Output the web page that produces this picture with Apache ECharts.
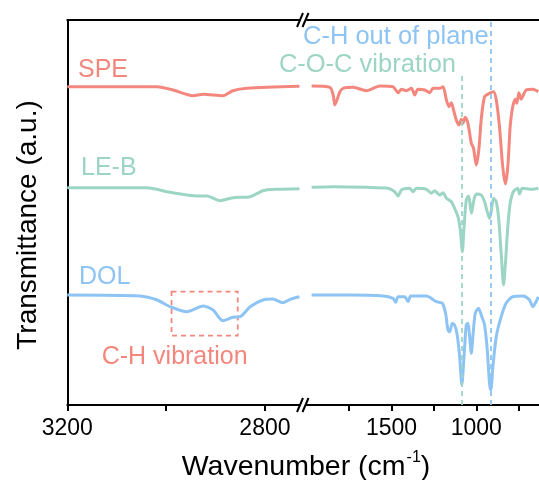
<!DOCTYPE html>
<html>
<head>
<meta charset="utf-8">
<script src="https://cdn.jsdelivr.net/npm/echarts@6/dist/echarts.min.js"></script>
<style>html,body{margin:0;padding:0;background:#fff;}#c{width:539px;height:480px;}</style>
</head>
<body>
<div id="c"></div>
<script>
// Wavenumber (cm-1) vs. transmittance (a.u., offset traces)
const speLeft = [[3200,318.3],[3018,318.3],[2986,315],[2946,309.3],[2925,310.7],[2885,309.3],[2865,314.3],[2836,316.7],[2730,318.7]];
const speRight = [[1971,319],[1863,317.7],[1844,310],[1834,300],[1820,305.7],[1804,313.3],[1785,316.7],[1726,317.7],[1647,314.3],[1569,319],[1491,318.3],[1461,312.3],[1441,315.7],[1412,314.3],[1382,316.7],[1363,310],[1344,315.7],[1304,315],[1275,312.3],[1255,316.7],[1216,316.7],[1196,318.3],[1176,305],[1161,298.3],[1147,302.3],[1134,295],[1118,285],[1102,280],[1088,285.7],[1079,281.7],[1065,287.7],[1049,281.7],[1029,261.7],[1016,256.7],[1000,240],[985,255],[971,285],[951,308.3],[922,311.7],[898,313.3],[882,305],[863,278.3],[844,238.3],[828,221],[814,238.3],[800,278.3],[785,298.3],[769,305.7],[761,301.7],[749,312.3],[735,305.7],[722,310],[706,315],[667,315.7],[634,313.3]];
const leLeft = [[3200,217.3],[3039,217.3],[2992,212.7],[2937,209],[2917,209],[2891,204.3],[2865,207.3],[2830,208.3],[2804,214.3],[2776,215.7],[2730,216.3]];
const leRight = [[1971,217.7],[1844,218.3],[1647,217.7],[1520,216.7],[1481,213.3],[1461,209],[1441,215],[1392,216.7],[1373,213.3],[1353,216.7],[1294,215.7],[1265,211.7],[1245,214.3],[1216,210],[1196,212.3],[1176,206.7],[1147,203.3],[1128,196.7],[1108,188.3],[1094,175],[1082,153.3],[1073,175],[1059,205],[1045,209],[1035,198.3],[1028,191.7],[1016,203.3],[1000,211],[971,210],[951,203.3],[938,195],[922,186.7],[912,193.3],[898,206.7],[882,203.3],[867,185],[853,151.7],[839,120],[828,141.7],[814,178.3],[800,201.7],[781,213.3],[755,216.7],[745,211],[729,216.7],[667,215.7],[634,216.7]];
const dolLeft = [[3200,110],[3053,109],[3018,105],[2992,98.3],[2958,93.3],[2925,99],[2905,95],[2885,84.3],[2865,87.7],[2850,88.3],[2830,98.3],[2804,105],[2784,106],[2764,102.3],[2749,105.7],[2730,108.3]];
const dolRight = [[1971,110],[1745,110],[1549,109],[1491,106.7],[1475,102.7],[1461,108.3],[1422,108.3],[1402,103.3],[1386,109],[1294,109],[1235,103.3],[1200,101.7],[1181,91.7],[1167,75],[1157,73.3],[1141,81.7],[1128,80],[1114,71.7],[1098,48.3],[1085,20],[1071,51.7],[1059,80],[1049,81.7],[1039,68.3],[1029,51.7],[1020,68.3],[1006,91.7],[987,96.7],[967,88.3],[951,80],[935,55],[922,21.7],[914,15],[902,38.3],[882,68.3],[853,88.3],[824,101.7],[785,108.3],[726,109],[686,105],[667,98.3],[647,103.3],[634,108.3]];
const leftTicks = [3200,3000,2800];
const leftLabels = [3200,2800];
const rightTicks = [750,1000,1250,1500,1750];
const rightLabels = [1000,1500];
const cocPeak = 1085;
const chPeak = 916;

const RED = '#F4877D', GREEN = '#9DD5C5', BLUE = '#8EC4F4';
const FONT = 'Liberation Sans, Arial, sans-serif';

function bottomAxis(grid, min, max, ticks, labels) {
  return {
    type: 'value', gridIndex: grid, inverse: true, min: min, max: max, position: 'bottom',
    axisLine: {show: true, lineStyle: {color: '#000', width: 2}},
    axisTick: {show: true, customValues: ticks, length: 6, inside: false, lineStyle: {color: '#000', width: 2}},
    axisLabel: {show: true, customValues: labels, fontSize: 23, color: '#000', fontFamily: FONT, margin: 12,
      formatter: function (v) { return String(Math.round(v)); }},
    splitLine: {show: false}
  };
}
function topAxis(grid, min, max) {
  return {
    type: 'value', gridIndex: grid, inverse: true, min: min, max: max, position: 'top',
    axisLine: {show: true, lineStyle: {color: '#000', width: 2}},
    axisTick: {show: false}, axisLabel: {show: false}, splitLine: {show: false}
  };
}
function yAx(grid, line) {
  return {
    type: 'value', gridIndex: grid, min: 0, max: 385,
    axisLine: {show: line, lineStyle: {color: '#000', width: 2}},
    axisTick: {show: false}, axisLabel: {show: false}, splitLine: {show: false}
  };
}
function ser(name, data, xi, yi, color, extra) {
  return Object.assign({
    name: name, type: 'line', data: data, xAxisIndex: xi, yAxisIndex: yi,
    showSymbol: false, smooth: 0.25, lineStyle: {color: color, width: 3},
    itemStyle: {color: color}, silent: true, z: 3
  }, extra || {});
}

const chart = echarts.init(document.getElementById('c'));
chart.setOption({
  animation: false,
  backgroundColor: '#fff',
  grid: [
    {left: 67.3, top: 20, width: 232.2, height: 385},
    {left: 306.7, top: 20, width: 232.9, height: 385}
  ],
  xAxis: [
    bottomAxis(0, 2730, 3200, leftTicks, leftLabels),
    topAxis(0, 2730, 3200),
    bottomAxis(1, 630, 2000, rightTicks, rightLabels),
    topAxis(1, 630, 2000)
  ],
  yAxis: [yAx(0, true), yAx(1, false)],
  series: [
    ser('SPE', speLeft, 0, 0, RED),
    ser('LE-B', leLeft, 0, 0, GREEN),
    ser('DOL', dolLeft, 0, 0, BLUE, {
      markArea: {silent: true, itemStyle: {color: 'rgba(0,0,0,0)', borderColor: RED, borderWidth: 1.8, borderType: [5, 4]},
        data: [[{coord: [2989, 113.3]}, {coord: [2855, 69.3]}]]}
    }),
    ser('SPE', speRight, 2, 1, RED),
    ser('LE-B', leRight, 2, 1, GREEN, {
      markLine: {silent: true, symbol: 'none', label: {show: false}, lineStyle: {color: GREEN, width: 1.8, type: [5, 4]},
        data: [[{coord: [cocPeak, 0]}, {coord: [cocPeak, 329]}]]}
    }),
    ser('DOL', dolRight, 2, 1, BLUE, {
      markLine: {silent: true, symbol: 'none', label: {show: false}, lineStyle: {color: BLUE, width: 1.8, type: [5, 4]},
        data: [[{coord: [chPeak, 0]}, {coord: [chPeak, 385]}]]}
    })
  ],
  graphic: [
    {type: 'line', shape: {x1: 297, y1: 27, x2: 303, y2: 13}, style: {stroke: '#000', lineWidth: 2}, z: 10},
    {type: 'line', shape: {x1: 302.5, y1: 27, x2: 308.5, y2: 13}, style: {stroke: '#000', lineWidth: 2}, z: 10},
    {type: 'line', shape: {x1: 297, y1: 412, x2: 303, y2: 398}, style: {stroke: '#000', lineWidth: 2}, z: 10},
    {type: 'line', shape: {x1: 302.5, y1: 412, x2: 308.5, y2: 398}, style: {stroke: '#000', lineWidth: 2}, z: 10},
    {type: 'text', x: 78, y: 70.5, style: {text: 'SPE', fill: RED, font: '25px ' + FONT, textVerticalAlign: 'middle'}},
    {type: 'text', x: 81, y: 168, style: {text: 'LE-B', fill: GREEN, font: '25px ' + FONT, textVerticalAlign: 'middle'}},
    {type: 'text', x: 79, y: 277.5, style: {text: 'DOL', fill: BLUE, font: '25px ' + FONT, textVerticalAlign: 'middle'}},
    {type: 'text', x: 101.7, y: 357.5, style: {text: 'C-H vibration', fill: RED, font: '25px ' + FONT, textVerticalAlign: 'middle'}},
    {type: 'text', x: 303, y: 37, style: {text: 'C-H out of plane', fill: BLUE, font: '25.5px ' + FONT, textVerticalAlign: 'middle'}},
    {type: 'text', x: 456, y: 65, style: {text: 'C-O-C vibration', fill: GREEN, font: '25.5px ' + FONT, textAlign: 'right', textVerticalAlign: 'middle'}},
    {type: 'text', x: 306, y: 466, style: {
      text: '{a|Wavenumber (cm}{s|-1}{a|)}', textAlign: 'center', textVerticalAlign: 'middle',
      rich: {a: {fontSize: 28.5, fontFamily: FONT, fill: '#000', color: '#000', lineHeight: 32, verticalAlign: 'bottom'},
             s: {fontSize: 16, fontFamily: FONT, fill: '#000', color: '#000', lineHeight: 32, verticalAlign: 'top', padding: [0, 0, 0, 1]}}
    }},
    {type: 'text', x: 28, y: 225, rotation: Math.PI / 2, style: {
      text: 'Transmittance (a.u.)', fill: '#000', font: '28px ' + FONT, textAlign: 'center', textVerticalAlign: 'middle'
    }}
  ]
});
</script>
</body>
</html>
